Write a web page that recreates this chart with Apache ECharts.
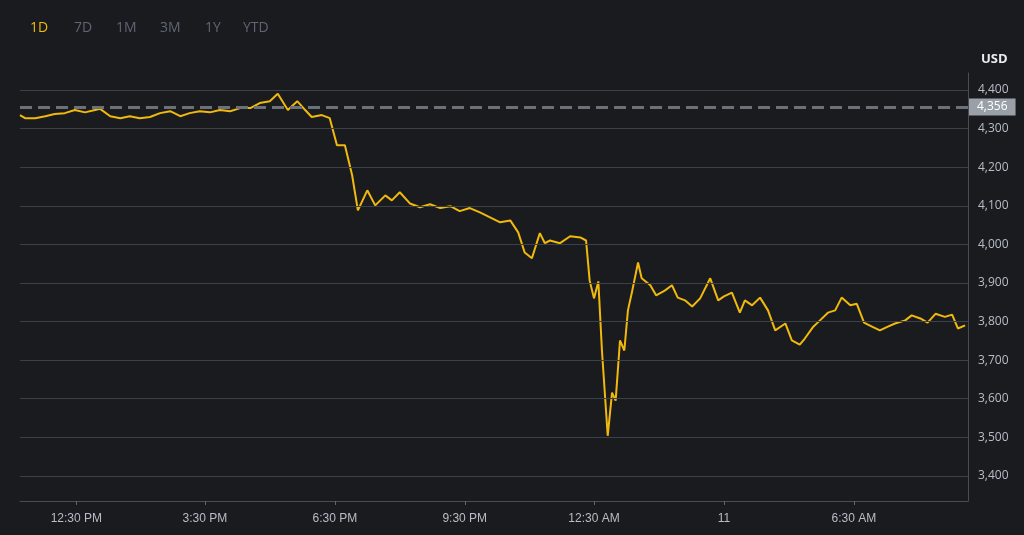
<!DOCTYPE html>
<head>
  <meta charset="utf-8">
  <script src="https://cdn.jsdelivr.net/npm/echarts@6/dist/echarts.min.js"></script>
  <style>body{margin:0;background:#1a1b1f}</style>
</head>
<body>
  <div id="main" style="width:1024px;height:535px;"></div>
  <script>
    // minutes since 11:13 AM
    var times = [0,7,21,35,48,62,76,90,104,111,125,139,152,166,180,194,208,222,235,249,263,277,291,305,319,332,346,357,371,384,395,404,418,429,439,450,460,468,481,492,506,515,526,540,554,568,582,596,609,623,637,651,665,679,690,699,709,720,727,734,748,762,776,784,789,795,801,806,814,820,825,831,837,842,848,856,861,873,881,893,903,911,921,931,942,956,967,975,986,997,1004,1014,1025,1036,1046,1060,1069,1080,1087,1098,1108,1119,1129,1138,1150,1159,1169,1180,1191,1202,1212,1226,1235,1247,1257,1268,1281,1291,1299,1309];
    var prices = [4335,4327,4327,4332,4338,4340,4348,4342,4348,4351,4332,4327,4332,4327,4330,4340,4345,4332,4340,4345,4342,4348,4345,4353,4353,4366,4371,4390,4348,4371,4348,4330,4335,4327,4257,4257,4179,4088,4140,4101,4127,4114,4135,4106,4096,4104,4094,4099,4086,4094,4083,4070,4057,4062,4031,3979,3964,4029,4003,4010,4003,4021,4018,4010,3906,3860,3904,3725,3504,3616,3595,3751,3725,3829,3880,3953,3912,3894,3868,3880,3894,3862,3855,3839,3860,3912,3855,3865,3875,3823,3855,3842,3862,3829,3777,3795,3751,3740,3756,3785,3803,3823,3829,3862,3842,3846,3797,3787,3777,3787,3795,3803,3816,3808,3797,3820,3812,3818,3782,3790];
    var tickTimes = [78,256,436,616,795,975,1155];
    var tickLabels = ['12:30 PM','3:30 PM','6:30 PM','9:30 PM','12:30 AM','11','6:30 AM'];
    var priceTicks = [3400,3500,3600,3700,3800,3900,4000,4100,4200,4300,4400];
    var lastPrice = 4356;
    var tabs = ['1D','7D','1M','3M','1Y','YTD'];
    var tabX = [30,74,116,160,205,243];

    var myChart = echarts.init(document.getElementById('main'));
    var labelColor = '#b7bdc6';

    var option = {
      backgroundColor: '#1a1b1f',
      animation: false,
      grid: {left: 20, right: 56, top: 73, bottom: 34, show: false},
      graphic: tabs.map(function(t, i) {
        return {type: 'text', left: tabX[i], top: 21,
          style: {text: t, fill: i === 0 ? '#f0b90b' : '#5e6673', font: '14px "Open Sans"'}};
      }).concat([{type: 'text', left: 981, top: 53,
        style: {text: 'USD', fill: '#eaecef', font: 'bold 13px "Open Sans"'}}]),
      xAxis: {
        type: 'value', min: 0, max: 1313,
        axisLine: {show: true, onZero: false, lineStyle: {color: '#474d57'}},
        axisTick: {show: true, customValues: tickTimes, length: 4, lineStyle: {color: '#5e6673'}},
        axisLabel: {customValues: tickTimes, color: labelColor, fontSize: 12, margin: 12,
          fontFamily: 'Liberation Sans Narrow, Liberation Sans',
          formatter: function(v) { return tickLabels[tickTimes.indexOf(v)]; }},
        splitLine: {show: false}
      },
      yAxis: {
        type: 'value', position: 'right', min: 3335, max: 4444,
        axisLine: {show: true, onZero: false, lineStyle: {color: '#474d57'}},
        axisTick: {show: false},
        axisLabel: {customValues: priceTicks, color: labelColor, fontSize: 12, margin: 10,
          fontFamily: 'Open Sans',
          formatter: function(v) { return v.toLocaleString('en-US'); }},
        splitLine: {show: false}
      },
      series: [{
        type: 'line', silent: true, data: [],
        markLine: {
          symbol: 'none', silent: true, label: {show: false},
          lineStyle: {color: '#3c4048', type: 'solid', width: 1},
          data: priceTicks.map(function(v) { return {yAxis: v}; })
        }
      }, {
        type: 'line',
        data: times.map(function(t, i) { return [t, prices[i]]; }),
        showSymbol: false,
        lineStyle: {color: '#f0b90b', width: 2},
        markLine: {
          symbol: 'none', silent: true,
          lineStyle: {color: '#6b7079', type: 'dashed', width: 3},
          label: {position: 'end', formatter: function(p) { return p.value.toLocaleString('en-US'); },
            color: '#ffffff', backgroundColor: '#9aa0a8', padding: [3, 8, 2, 8],
            fontSize: 12, fontFamily: 'Open Sans', distance: 1},
          data: [{yAxis: lastPrice}]
        }
      }]
    };
    myChart.setOption(option);
  </script>
</body>
